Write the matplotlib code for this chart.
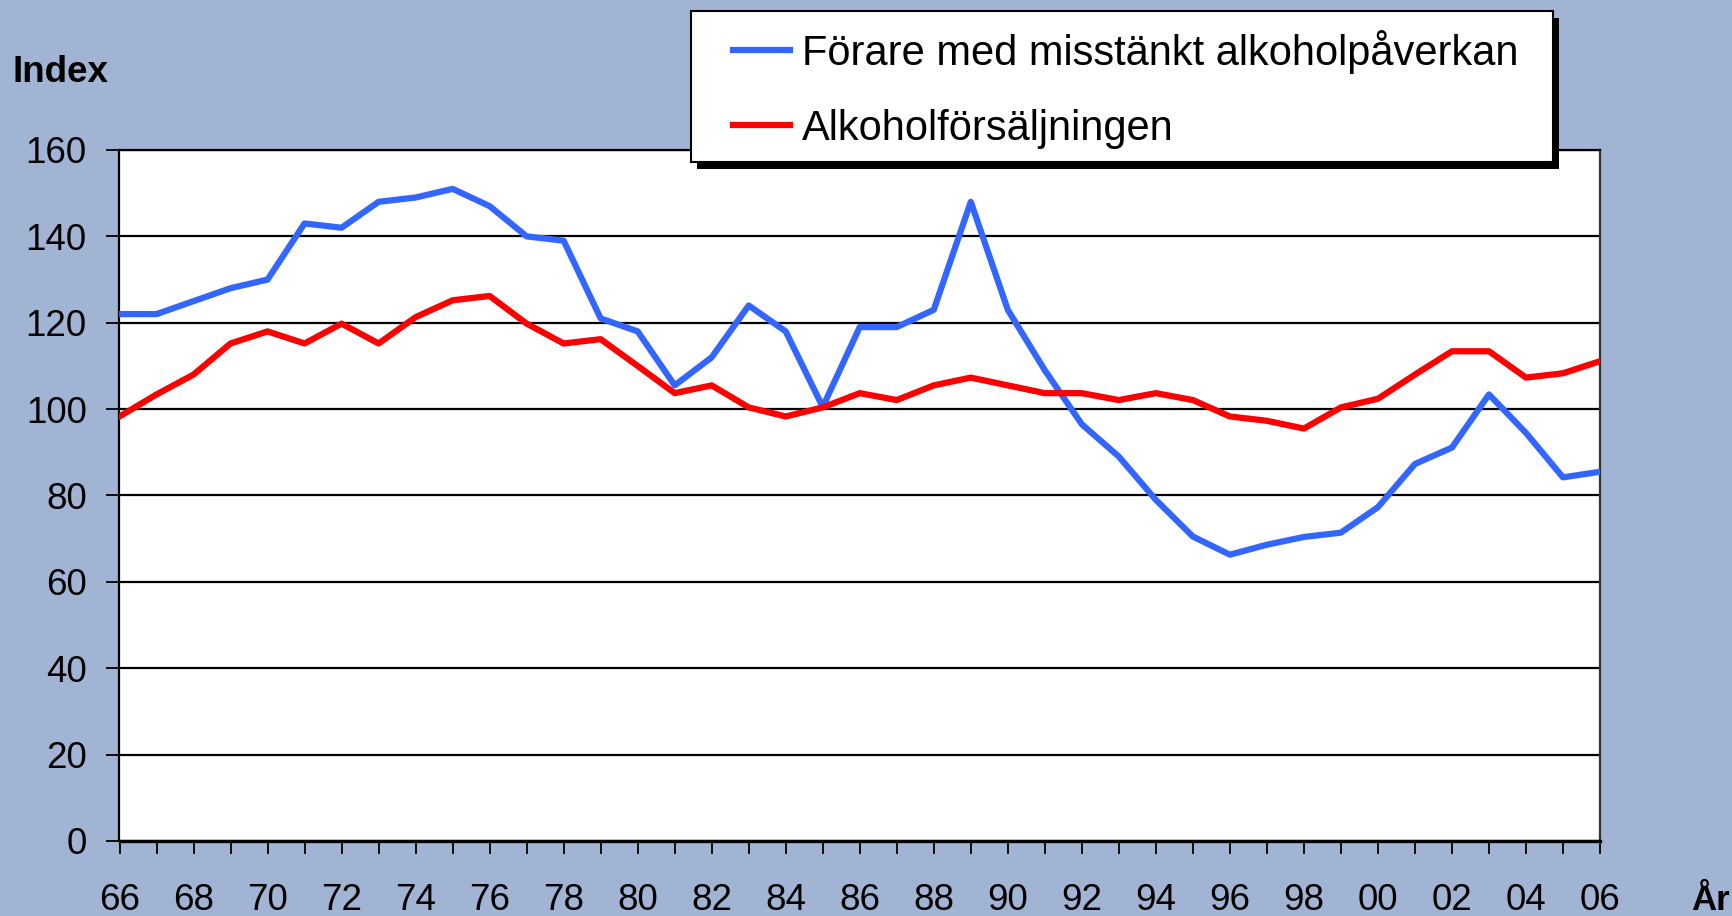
import matplotlib
matplotlib.use('Agg')
import matplotlib.pyplot as plt
from matplotlib.patches import Rectangle
from matplotlib.ticker import MultipleLocator

# ============================================================================
# DATA
# ============================================================================
years = list(range(1966, 2007))

forare = [122, 122, 125, 128, 130, 143, 142, 148, 149, 151,
          147, 140, 139, 121, 118, 105.5, 112, 124, 118, 100.5,
          119, 119, 123, 148, 123, 109, 96.5, 89, 79, 70.5,
          66.3, 68.6, 70.4, 71.4, 77.3, 87.3, 91.1, 103.4, 94.5, 84.2,
          85.5]

forsaljning = [98.3, 103.4, 108, 115.2, 118, 115.2, 119.8, 115.2, 121.3, 125.2,
               126.2, 119.8, 115.2, 116.2, 110, 103.7, 105.5, 100.4, 98.3, 100.4,
               103.7, 102.1, 105.5, 107.3, 105.5, 103.7, 103.7, 102.1, 103.7, 102.1,
               98.3, 97.3, 95.5, 100.4, 102.4, 108, 113.4, 113.4, 107.3, 108.3,
               111.1]

series_labels = ['Förare med misstänkt alkoholpåverkan', 'Alkoholförsäljningen']
y_ticks = list(range(0, 161, 20))
x_label_years = years[::2]
x_tick_labels = [f"{y % 100:02d}" for y in x_label_years]
# ============================================================================

BG = '#A1B4D4'
BLUE = '#3366FF'
RED = '#FF0000'
W, H = 1733, 916

plt.rcParams['font.family'] = ['Liberation Sans', 'DejaVu Sans']

fig = plt.figure(figsize=(W / 100, H / 100), dpi=100, facecolor=BG)
ax = fig.add_axes([119.5 / W, 1 - 841 / H, (1600 - 119.5) / W, (841 - 150) / H])
ax.set_facecolor('white')

ax.plot(years, forare, color=BLUE, linewidth=4.5, label=series_labels[0], zorder=3)
ax.plot(years, forsaljning, color=RED, linewidth=4.5, label=series_labels[1], zorder=3)

ax.set_xlim(1966, 2006)
ax.set_ylim(0, 160)

ax.set_yticks(y_ticks)
ax.set_xticks(x_label_years)
ax.set_xticklabels(x_tick_labels)
ax.xaxis.set_minor_locator(MultipleLocator(1))

ax.grid(True, axis='y', color='black', linewidth=1.6, zorder=1)
ax.set_axisbelow(True)

for side in ['left', 'right', 'top']:
    ax.spines[side].set_color('black')
    ax.spines[side].set_linewidth(1.6)
ax.spines['bottom'].set_linewidth(2.4)
ax.spines['right'].set_color('#333333')

ax.tick_params(axis='y', direction='out', length=9.5, width=1.3, pad=14,
               labelsize=26.5, colors='black')
ax.tick_params(axis='x', which='both', direction='out', length=9.5, width=1.3,
               pad=21, labelsize=26.5, colors='black')

fig.text(13 / W, 1 - 72 / H, 'Index', fontsize=26.5, fontweight='bold',
         ha='left', va='center')
fig.text(1691 / W, 1 - 900 / H, 'År', fontsize=25, fontweight='bold',
         ha='left', va='center')

# legend frame with hard black shadow
bx0, bx1, by0, by1 = 691, 1553, 11, 162
fig.patches.append(Rectangle(((bx0 + 6) / W, 1 - (by1 + 7) / H), (bx1 - bx0) / W,
                             (by1 - by0) / H, transform=fig.transFigure,
                             facecolor='black', edgecolor='none', zorder=5))
fig.patches.append(Rectangle((bx0 / W, 1 - by1 / H), (bx1 - bx0) / W,
                             (by1 - by0) / H, transform=fig.transFigure,
                             facecolor='white', edgecolor='black', linewidth=1.5,
                             zorder=6))

leg = fig.legend(loc='upper left', bbox_to_anchor=(733 / W, 1 - 30 / H),
                 fontsize=30, frameon=False, handlelength=1.37,
                 handletextpad=0.29, labelspacing=0.84, borderpad=0,
                 borderaxespad=0)
leg.set_zorder(7)

fig.savefig('out.png', dpi=100, facecolor=BG)
